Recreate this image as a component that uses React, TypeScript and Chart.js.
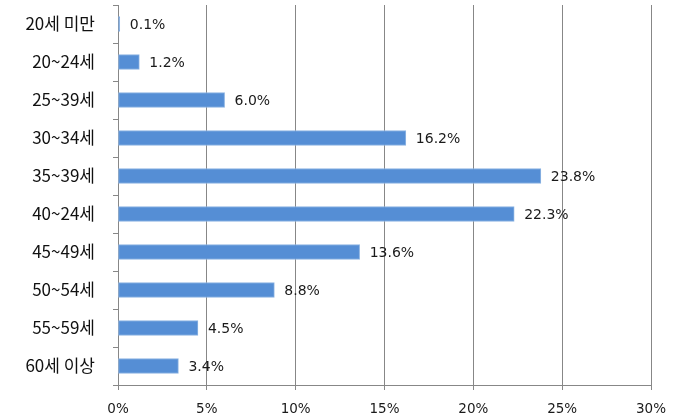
import React, { useEffect, useRef } from "react";
import { Chart, registerables } from "chart.js";

Chart.register(...registerables);

const categories = ["20세 미만", "20~24세", "25~39세", "30~34세", "35~39세", "40~24세", "45~49세", "50~54세", "55~59세", "60세 이상"];
const values = [0.1, 1.2, 6.0, 16.2, 23.8, 22.3, 13.6, 8.8, 4.5, 3.4];
const xTicks = [0, 5, 10, 15, 20, 25, 30];

const valueLabels = {
  id: "valueLabels",
  afterDatasetsDraw(chart: any) {
    const ctx = chart.ctx;
    const meta = chart.getDatasetMeta(0);
    ctx.save();
    ctx.font = "14px 'DejaVu Sans', Verdana, sans-serif";
    ctx.fillStyle = "#1a1a1a";
    ctx.textAlign = "left";
    ctx.textBaseline = "middle";
    meta.data.forEach((el: any, i: number) => {
      ctx.fillText(values[i].toFixed(1) + "%", el.x + 10, el.y + 1.5);
    });
    ctx.restore();
  },
};

export default function App() {
  const ref = useRef<HTMLCanvasElement>(null);
  useEffect(() => {
    const chart = new Chart(ref.current!, {
      type: "bar",
      data: {
        labels: categories,
        datasets: [
          {
            data: values,
            backgroundColor: "#558ED5",
            borderColor: "#8DB4E2",
            borderWidth: 1,
            borderSkipped: false,
            barThickness: 15,
          },
        ],
      },
      options: {
        indexAxis: "y",
        animation: false,
        responsive: false,
        maintainAspectRatio: false,
        layout: { padding: { top: 5, right: 49, left: 0, bottom: 0 } },
        plugins: { legend: { display: false }, tooltip: { enabled: false } },
        scales: {
          x: {
            min: 0,
            max: 30,
            afterBuildTicks(axis: any) {
              axis.ticks = xTicks.map((v) => ({ value: v }));
            },
            afterFit(axis: any) {
              axis.height = 35;
              axis.paddingLeft = 0;
              axis.paddingRight = 0;
            },
            grid: {
              color: "#878787",
              lineWidth: 1,
              drawTicks: true,
              tickLength: 5,
              tickColor: "#878787",
            },
            border: { display: true, color: "#878787" },
            ticks: {
              color: "#1a1a1a",
              padding: 11,
              font: { family: "'DejaVu Sans', Verdana, sans-serif", size: 13.5 },
              callback: (v: any) => v + "%",
            },
          },
          y: {
            afterFit(axis: any) {
              axis.width = 118;
              axis.paddingTop = 0;
              axis.paddingBottom = 0;
            },
            grid: {
              offset: true,
              drawOnChartArea: false,
              drawTicks: true,
              tickLength: 5,
              tickColor: "#878787",
            },
            border: { display: true, color: "#878787" },
            ticks: {
              color: "#111",
              padding: 18,
              font: { family: "'Noto Sans CJK KR', 'Noto Sans', sans-serif", size: 17 },
            },
          },
        },
      },
      plugins: [valueLabels],
    });
    return () => chart.destroy();
  }, []);
  return (
    <div style={{ position: "absolute", left: 0, top: 0, width: 700, height: 420, background: "#fff" }}>
      <canvas ref={ref} width={700} height={420} />
    </div>
  );
}
